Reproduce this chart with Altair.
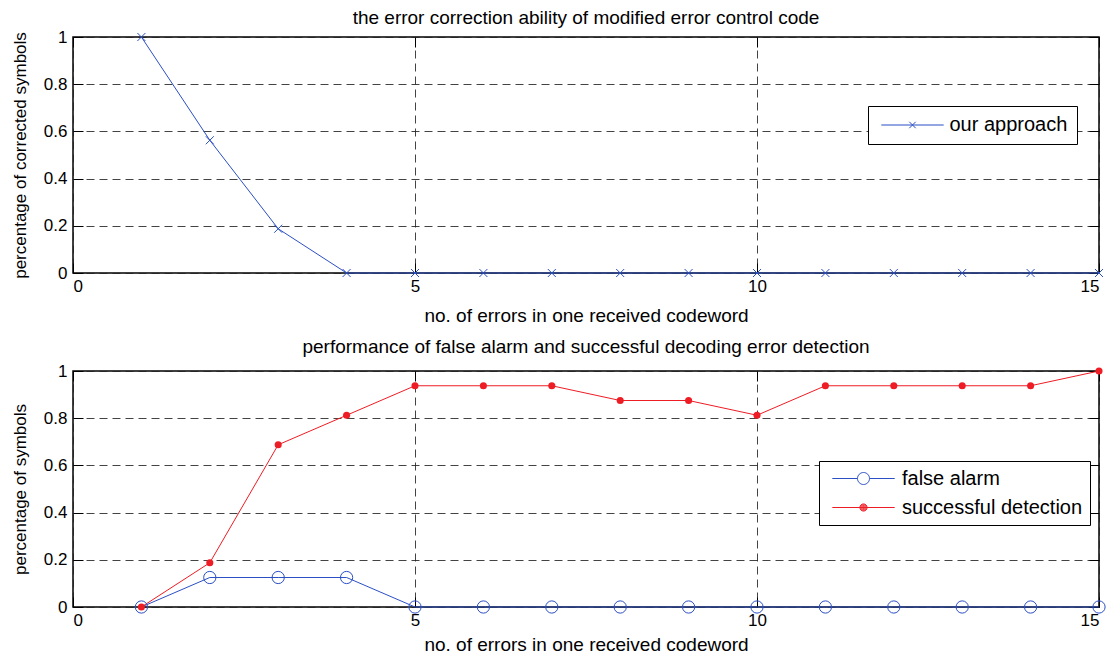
import altair as alt
import pandas as pd

# ---- data ----
errors = list(range(1, 16))
corrected = [1.0, 0.5625, 0.1875, 0, 0, 0, 0, 0, 0, 0, 0, 0, 0, 0, 0]
false_alarm = [0, 0.125, 0.125, 0.125, 0, 0, 0, 0, 0, 0, 0, 0, 0, 0, 0]
success = [0, 0.1875, 0.6875, 0.8125, 0.9375, 0.9375, 0.9375, 0.875, 0.875,
           0.8125, 0.9375, 0.9375, 0.9375, 0.9375, 1.0]

top_title = "the error correction ability of modified error control code"
bottom_title = "performance of false alarm and successful decoding error detection"
x_title = "no. of errors in one received codeword"
top_y_title = "percentage of corrected symbols"
bottom_y_title = "percentage of symbols"
x_ticks = [0, 5, 10, 15]
y_ticks = [0, 0.2, 0.4, 0.6, 0.8, 1.0]

BLUE = "#2b4fc4"
RED = "#ee1c24"
FONT = "Liberation Sans"

top_df = pd.DataFrame({"x": errors, "y": corrected, "series": "our approach"})
fa_df = pd.DataFrame({"x": errors, "y": false_alarm, "series": "false alarm"})
sd_df = pd.DataFrame({"x": errors, "y": success, "series": "successful detection"})
bottom_df = pd.concat([fa_df, sd_df], ignore_index=True)

W, H = 1026, 236
XS = alt.Scale(domain=[0, 15], nice=False)
YS = alt.Scale(domain=[0, 1], nice=False)

def xenc(title_pad):
    return alt.X("x:Q", scale=XS,
                 axis=alt.Axis(values=x_ticks, title=x_title, format="~g",
                               titlePadding=title_pad))

def yenc(title):
    return alt.Y("y:Q", scale=YS,
                 axis=alt.Axis(values=y_ticks, title=title, format="~g"))

def tick_axis(orient, vals):
    # inward tick marks (MATLAB style): axis moved 10px inside, ticks 10px outward
    return alt.Axis(orient=orient, values=vals, labels=False, ticks=True,
                    tickSize=10, offset=-10, domain=False, grid=False,
                    title=None, tickColor="black", tickWidth=1)

def xt(orient):
    return alt.X("x:Q", scale=XS, axis=tick_axis(orient, x_ticks))

def yt(orient):
    return alt.Y("y:Q", scale=YS, axis=tick_axis(orient, y_ticks))

def xn():
    return alt.X("x:Q", scale=XS, axis=None)

def yn():
    return alt.Y("y:Q", scale=YS, axis=None)

# legend symbol paths (line + marker); unit = 8 px with symbolSize 256
P_CROSS = "M-3.9,0L3.9,0M-0.4,-0.4L0.4,0.4M-0.4,0.4L0.4,-0.4"
P_CIRC = ("M-3.9,0L-0.75,0M0.75,0L3.9,0M0.75,0A0.75,0.75,0,1,1,-0.75,0"
          "A0.75,0.75,0,1,1,0.75,0")
_dot = "".join(f"M{r},0A{r},{r},0,1,1,-{r},0A{r},{r},0,1,1,{r},0"
               for r in ["0.45", "0.35", "0.25", "0.15", "0.06"])
P_DOT = "M-3.9,0L3.9,0" + _dot
X_MARK = "M-1,-1L1,1M-1,1L1,-1"

def legend(x, y, pad, rowpad):
    return alt.Legend(title=None, orient="none", legendX=x, legendY=y,
                      strokeColor="black", fillColor="white", padding=pad,
                      cornerRadius=0, symbolSize=256, symbolStrokeWidth=1,
                      symbolOffset=43 - pad - 8.5, symbolOpacity=1,
                      labelFontSize=20, labelFont=FONT, labelColor="black",
                      labelOffset=80 - pad - 17 - 27, labelLimit=400,
                      rowPadding=rowpad)

# ---- top panel ----
top_line = alt.Chart(top_df).mark_line(color=BLUE, strokeWidth=1).encode(
    x=xenc(12), y=yenc(top_y_title))
top_pts = alt.Chart(top_df).mark_point(shape=X_MARK, size=64, color=BLUE,
                                        strokeWidth=1, opacity=1).encode(
    x=xt("bottom"), y=yt("left"))
tl = legend(795, 69, 9, 9)
top_leg = alt.Chart(top_df).mark_point(opacity=0, filled=False).encode(
    x=xt("top"), y=yt("right"),
    stroke=alt.Stroke("series:N", scale=alt.Scale(domain=["our approach"], range=[BLUE]),
                      legend=tl),
    shape=alt.Shape("series:N", scale=alt.Scale(domain=["our approach"], range=[P_CROSS]),
                    legend=tl),
)
top = alt.layer(top_line, top_pts, top_leg).resolve_axis(
    x="independent", y="independent"
).properties(
    width=W, height=H,
    title=alt.TitleParams(top_title, frame="group", offset=0))

# ---- bottom panel ----
fa_line = alt.Chart(fa_df).mark_line(color=BLUE, strokeWidth=1).encode(
    x=xenc(7), y=yenc(bottom_y_title))
sd_line = alt.Chart(sd_df).mark_line(color=RED, strokeWidth=1).encode(
    x=xn(), y=yn())
fa_pts = alt.Chart(fa_df).mark_point(shape="circle", size=150, color=BLUE,
                                      filled=False, strokeWidth=1, opacity=1).encode(
    x=xt("bottom"), y=yt("left"))
sd_pts = alt.Chart(sd_df).mark_point(shape="circle", size=50, color=RED,
                                      filled=True, opacity=1).encode(
    x=xn(), y=yn())
dom = ["false alarm", "successful detection"]
bl = legend(746, 90, 7.5, 9)
bot_leg = alt.Chart(bottom_df).mark_point(opacity=0, filled=False).encode(
    x=xt("top"), y=yt("right"),
    stroke=alt.Stroke("series:N", scale=alt.Scale(domain=dom, range=[BLUE, RED]),
                      legend=bl),
    shape=alt.Shape("series:N", scale=alt.Scale(domain=dom, range=[P_CIRC, P_DOT]),
                    legend=bl),
)
bottom = alt.layer(fa_line, sd_line, fa_pts, sd_pts, bot_leg).resolve_axis(
    x="independent", y="independent"
).properties(
    width=W, height=H,
    title=alt.TitleParams(bottom_title, frame="group", offset=5))

chart = alt.vconcat(top, bottom, spacing=11).resolve_scale(
    stroke="independent", shape="independent"
).resolve_legend(
    stroke="independent", shape="independent"
).properties(
    padding={"left": 2, "top": 0, "right": -2, "bottom": 0}
).configure_view(
    stroke="black", strokeWidth=1.5
).configure_axis(
    domain=False, ticks=False,
    grid=True, gridColor="#222222", gridDash=[8, 5], gridWidth=1, gridOpacity=0.85,
    labelFont=FONT, labelFontSize=17, labelColor="black",
    titleFont=FONT, titleColor="black", titleFontWeight="normal",
).configure_axisX(
    labelPadding=5, titleFontSize=19
).configure_axisY(
    labelPadding=6, titlePadding=14, titleFontSize=17
).configure_title(
    font=FONT, fontSize=19, fontWeight="normal", color="black"
)

chart.save("out.html", embed_options={"renderer": "svg", "actions": False})
